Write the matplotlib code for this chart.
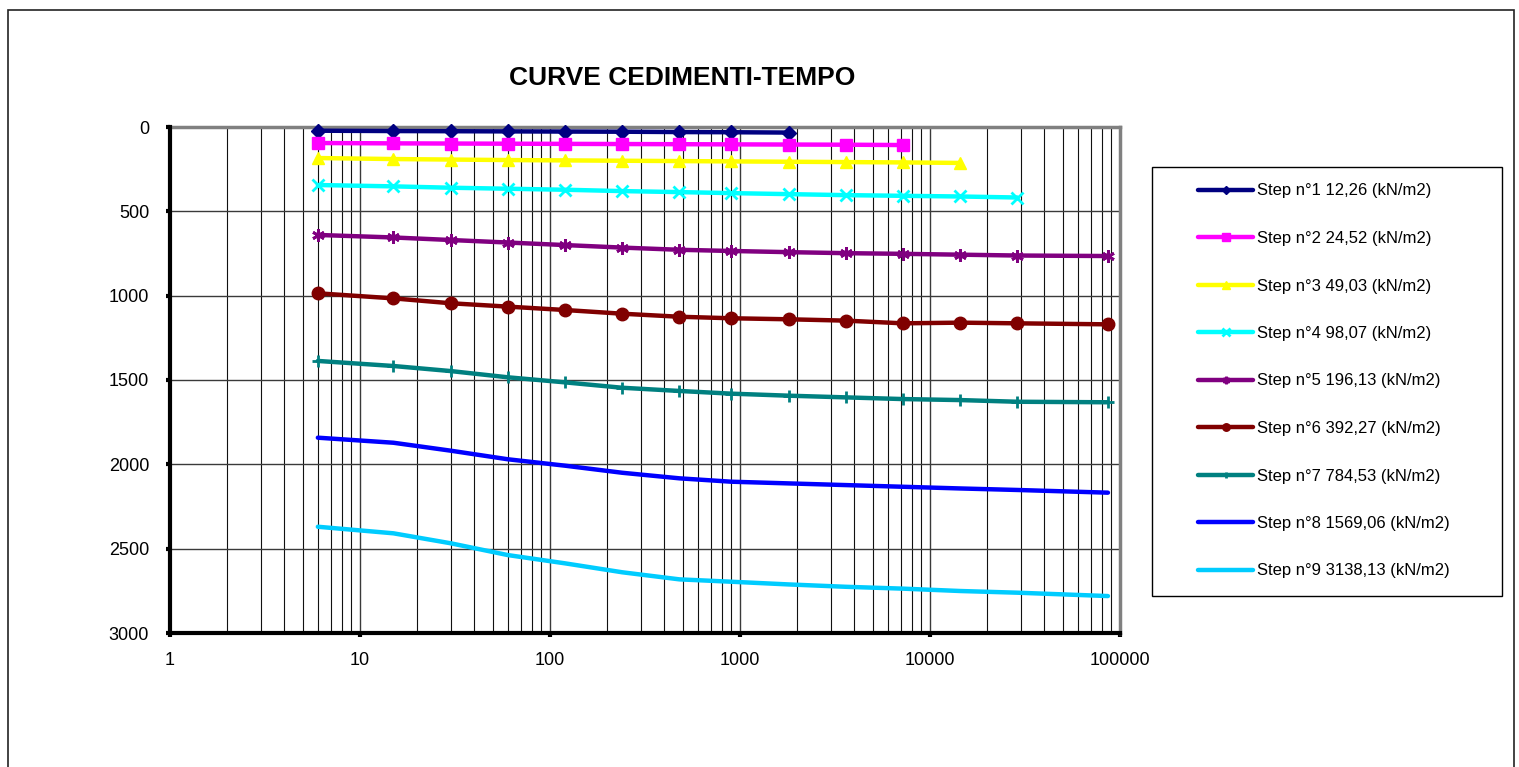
import matplotlib
matplotlib.use("Agg")
import matplotlib.pyplot as plt
from matplotlib.patches import Rectangle
from matplotlib.ticker import FixedLocator, FuncFormatter, LogLocator, NullFormatter

plt.rcParams['font.family'] = ['Liberation Sans', 'DejaVu Sans']

time_s = [6, 15, 30, 60, 120, 240, 480, 900, 1800, 3600, 7200, 14400, 28800, 86400]

step1 = [22, 24, 25, 26, 27, 28, 30, 31, 33]
step2 = [95, 97, 98, 99, 100, 101, 102, 103, 104, 105, 107]
step3 = [184, 190, 193, 196, 198, 200, 202, 204, 206, 208, 210, 213]
step4 = [344, 352, 360, 366, 372, 380, 386, 392, 398, 404, 408, 412, 418]
step5 = [640, 655, 670, 685, 700, 715, 728, 735, 742, 748, 752, 757, 762, 765]
step6 = [986, 1016, 1045, 1065, 1085, 1107, 1125, 1134, 1140, 1148, 1164, 1160, 1164, 1170]
step7 = [1387, 1417, 1447, 1484, 1514, 1546, 1565, 1581, 1593, 1603, 1613, 1619, 1629, 1632]
step8 = [1842, 1872, 1919, 1970, 2008, 2050, 2083, 2103, 2113, 2123, 2133, 2143, 2152, 2168]
step9 = [2370, 2409, 2468, 2538, 2587, 2640, 2682, 2696, 2712, 2726, 2737, 2751, 2761, 2781]

labels = [
    "Step n°1 12,26 (kN/m2)",
    "Step n°2 24,52 (kN/m2)",
    "Step n°3 49,03 (kN/m2)",
    "Step n°4 98,07 (kN/m2)",
    "Step n°5 196,13 (kN/m2)",
    "Step n°6 392,27 (kN/m2)",
    "Step n°7 784,53 (kN/m2)",
    "Step n°8 1569,06 (kN/m2)",
    "Step n°9 3138,13 (kN/m2)",
]
series = [step1, step2, step3, step4, step5, step6, step7, step8, step9]
colors = ["#000080", "#FF00FF", "#FFFF00", "#00FFFF", "#800080",
          "#800000", "#008080", "#0000FF", "#00CCFF"]
markers = ["D", "s", "^", "x", (6, 2, 0), "o", "+", None, None]
msizes = [7, 9, 9, 9, 9, 9, 8, 0, 0]

W, H = 1519, 767
fig = plt.figure(figsize=(W / 100, H / 100), dpi=100)
ax = fig.add_axes([170 / W, 1 - 633 / H, (1120 - 170) / W, (633 - 127) / H])

for vals, lab, c, m, ms in zip(series, labels, colors, markers, msizes):
    ax.plot(time_s[:len(vals)], vals, color=c, lw=3.2, marker=m, markersize=ms,
            markeredgewidth=2 if m in ("x", "+", (6, 2, 0)) else 1,
            markeredgecolor=c, markerfacecolor=c, label=lab, zorder=3,
            solid_capstyle='round', clip_on=False)

ax.set_xscale('log')
ax.set_xlim(1, 100000)
ax.set_ylim(3000, 0)
ax.yaxis.set_major_locator(FixedLocator([0, 500, 1000, 1500, 2000, 2500, 3000]))
ax.xaxis.set_major_locator(LogLocator(base=10, numticks=10))
ax.xaxis.set_minor_locator(LogLocator(base=10, subs=range(2, 10), numticks=20))
ax.xaxis.set_minor_formatter(NullFormatter())
ax.xaxis.set_major_formatter(FuncFormatter(lambda v, p: f"{int(round(v))}"))
ax.yaxis.set_major_formatter(FuncFormatter(lambda v, p: f"{int(round(v))}"))

ax.grid(True, which='major', axis='both', color='#3a3a3a', lw=1.0)
ax.grid(True, which='minor', axis='x', color='#111111', lw=0.8)
ax.set_axisbelow(True)

for s in ('top', 'right'):
    ax.spines[s].set_color('#808080')
    ax.spines[s].set_linewidth(2.5)
for s in ('left', 'bottom'):
    ax.spines[s].set_color('black')
    ax.spines[s].set_linewidth(3)
    ax.spines[s].set_zorder(4)

ax.tick_params(axis='both', which='major', direction='out', length=3, width=3,
               labelsize=13, colors='black')
ax.tick_params(axis='y', pad=12)
ax.tick_params(axis='x', pad=11)
ax.tick_params(axis='x', which='minor', length=0)

fig.text(682 / W, 1 - 78 / H, "CURVE CEDIMENTI-TEMPO", ha='center', va='center',
         fontsize=19, fontweight='bold')

# outer chart border
fig.patches.append(Rectangle((8 / W, -0.05), (1514 - 8) / W, 1 - 10 / H + 0.05,
                             transform=fig.transFigure, fill=False,
                             edgecolor='#222222', lw=1.2))
# legend frame
fig.patches.append(Rectangle((1152 / W, 1 - 596 / H), (1502 - 1152) / W, (596 - 167) / H,
                             transform=fig.transFigure, fill=False,
                             edgecolor='black', lw=1.0))

handles, labs = ax.get_legend_handles_labels()
leg = fig.legend(handles, labs, loc='center left',
                 bbox_to_anchor=(1198 / W, 1 - 381 / H), frameon=False,
                 fontsize=12, handlelength=3.3, handletextpad=0.25,
                 labelspacing=1.95, borderpad=0, borderaxespad=0,
                 markerscale=0.6)

fig.savefig("out.png", dpi=100)
